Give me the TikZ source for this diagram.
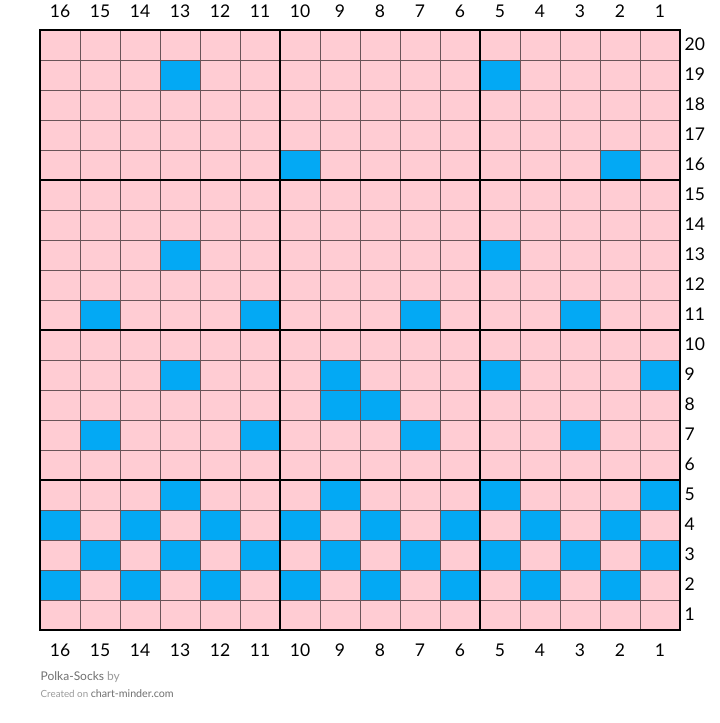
\documentclass[tikz,border=0pt]{standalone}
\usepackage{fontspec}
\setmainfont{Lato}
\definecolor{pinkc}{HTML}{FFCCD3}
\definecolor{bluec}{HTML}{03A9F4}
\definecolor{gridc}{HTML}{6A5458}
\definecolor{footdark}{HTML}{707070}
\definecolor{footlight}{HTML}{9A9A9A}
\tikzset{
  thingrid/.style={draw=gridc, line width=1pt},
  thickgrid/.style={draw=black, line width=2.5pt, line cap=rect},
  numlabel/.style={font=\fontsize{17.5}{17.5}\selectfont, text=black, inner sep=0pt},
}
\begin{document}
\begin{tikzpicture}[x=1pt,y=-1pt]
\useasboundingbox (0,0) rectangle (720,723);
\fill[white] (0,0) rectangle (720,723);
\fill[pinkc] (40,30) rectangle (680,630);
\foreach \c/\r in {13/19,5/19,10/16,2/16,13/13,5/13,15/11,11/11,7/11,3/11,
  13/9,9/9,5/9,1/9,9/8,8/8,15/7,11/7,7/7,3/7,13/5,9/5,5/5,1/5,
  16/4,14/4,12/4,10/4,8/4,6/4,4/4,2/4,15/3,13/3,11/3,9/3,7/3,5/3,3/3,1/3,
  16/2,14/2,12/2,10/2,8/2,6/2,4/2,2/2}
  \fill[bluec] ({40+(16-\c)*40},{30+(20-\r)*30}) rectangle ++(40,30);
\foreach \i in {1,...,15} \draw[thingrid] ({40+\i*40},30) -- ({40+\i*40},630);
\foreach \j in {1,...,19} \draw[thingrid] (40,{30+\j*30}) -- (680,{30+\j*30});
\foreach \x in {40,280,480,680} \draw[thickgrid] (\x,30) -- (\x,630);
\foreach \y in {30,180,330,480,630} \draw[thickgrid] (40,\y) -- (680,\y);
\foreach \c in {1,...,16} {
  \node[numlabel] (t\c) at ({40+(16-\c)*40+20},11) {\c};
  \node[numlabel] (b\c) at ({40+(16-\c)*40+20},650) {\c};
}
\foreach \r in {1,...,20}
  \node[numlabel, anchor=west] (r\r) at (684.5,{30+(20-\r)*30+14}) {\r};
\node[anchor=base west, inner sep=0pt, font=\fontsize{12}{12}\selectfont] (title) at (40.5,680)
  {\textcolor{footdark}{Polka-Socks} \textcolor{footlight}{by}};
\node[anchor=base west, inner sep=0pt] (credit) at (40.5,697)
  {\textcolor{footlight}{\fontsize{9.8}{9.8}\selectfont Created on }\textcolor{footdark}{\fontsize{10.7}{10.7}\selectfont chart-minder.com}};
\end{tikzpicture}
\end{document}
